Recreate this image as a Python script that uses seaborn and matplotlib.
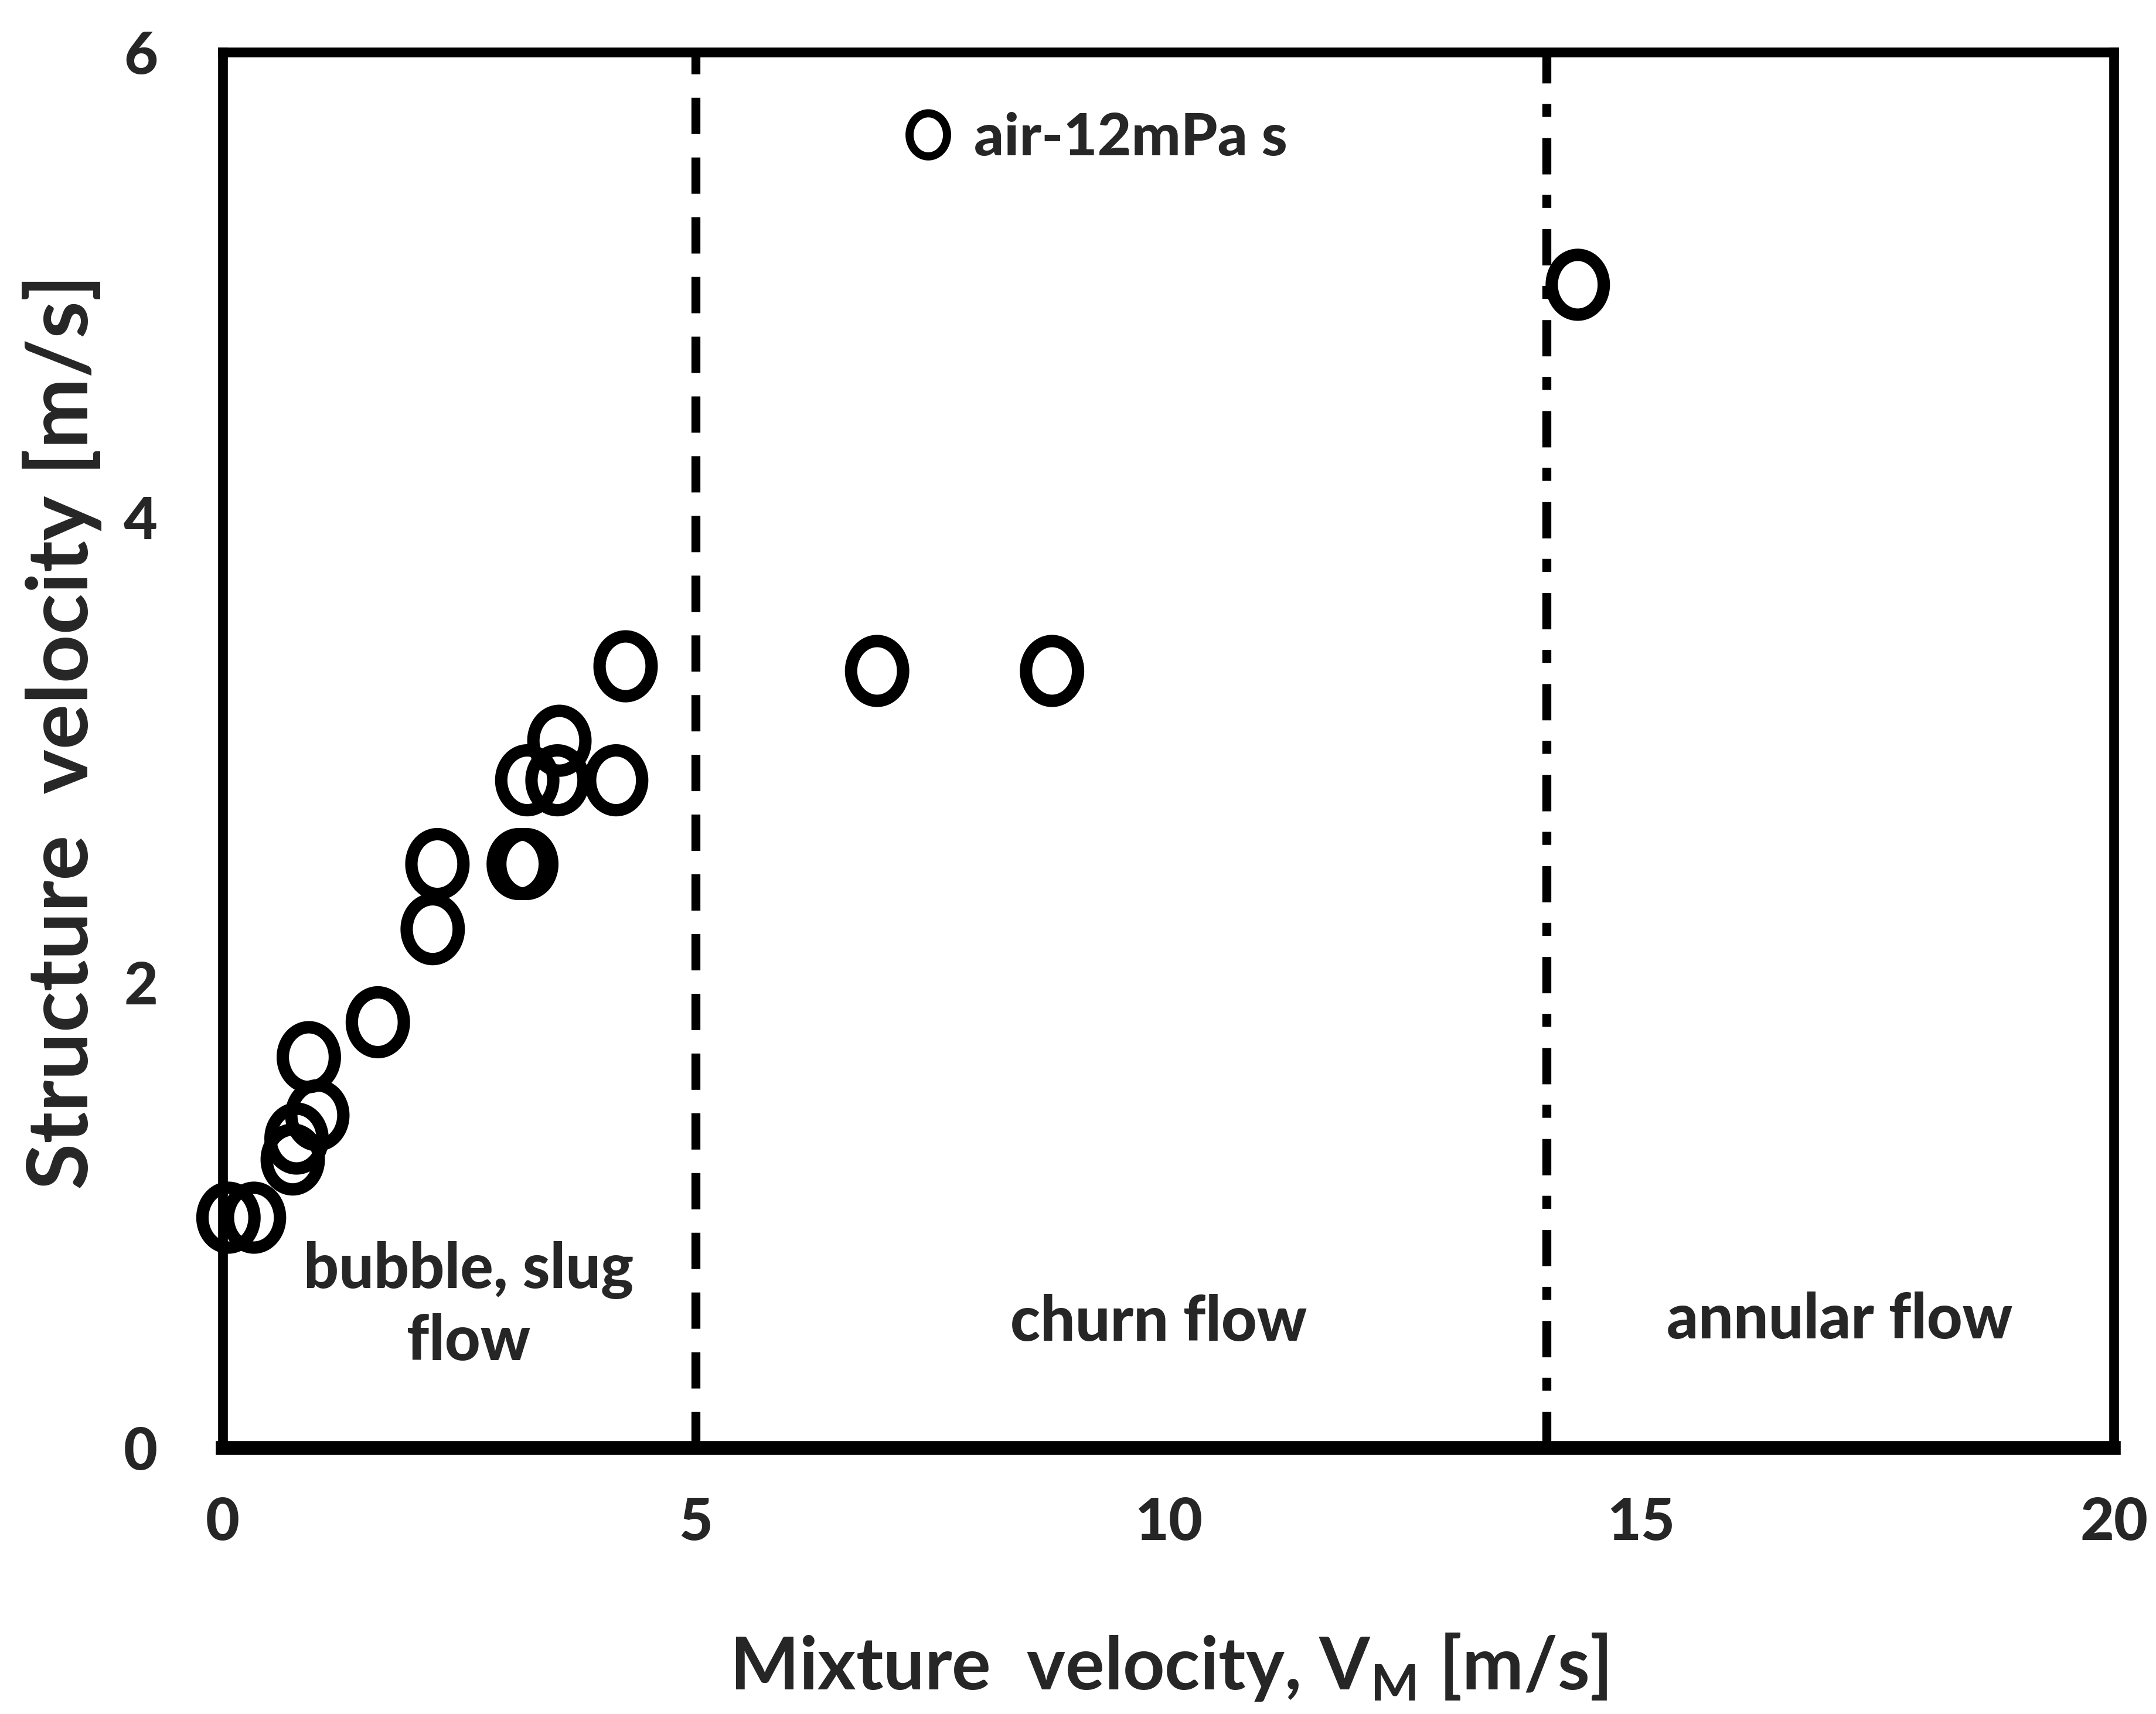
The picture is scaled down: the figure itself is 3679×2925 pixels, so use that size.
import numpy as np
import pandas as pd
import matplotlib
matplotlib.use("Agg")
import matplotlib.pyplot as plt
from matplotlib.path import Path
from matplotlib.markers import MarkerStyle
import seaborn as sns

# ---------------- data ----------------
mixture_velocity = [0.06, 0.33, 0.74, 0.78, 1.00, 0.91, 1.64, 2.22, 2.27,
                    3.13, 3.21, 3.22, 3.54, 3.56, 4.16, 4.26, 6.92, 8.77, 14.33]
structure_velocity = [0.99, 0.99, 1.24, 1.33, 1.43, 1.68, 1.83, 2.23, 2.51,
                      2.51, 2.51, 2.87, 2.87, 3.04, 2.87, 3.36, 3.34, 3.34, 5.00]
series_label = "air-12mPa s"
x_ticks = [0, 5, 10, 15, 20]
y_ticks = [0, 2, 4, 6]
regime_bounds = [5, 14]
regime_names = ["bubble, slug\nflow", "churn flow", "annular flow"]

df = pd.DataFrame({"vm": mixture_velocity, "vs": structure_velocity})

# ---------------- style ----------------
sns.set_style("white")
plt.rcParams["font.family"] = ["Lato", "DejaVu Sans"]
plt.rcParams["font.weight"] = "bold"
plt.rcParams["axes.labelweight"] = "bold"
plt.rcParams["mathtext.fontset"] = "custom"
plt.rcParams["mathtext.rm"] = "Lato:bold"
plt.rcParams["mathtext.it"] = "Lato:bold"
plt.rcParams["mathtext.bf"] = "Lato:bold"
plt.rcParams["lines.scale_dashes"] = False

HEAVY = "black"

fig = plt.figure(figsize=(18.4, 14.625), dpi=200)
ax = fig.add_axes([0.1033, 0.1552, 0.8769, 0.8144])

# slightly tall ellipse marker (original chart is horizontally squeezed)
t = np.linspace(0, 2 * np.pi, 120)
ell = Path(np.column_stack([0.87 * np.cos(t), np.sin(t)]), closed=True)
marker = MarkerStyle(ell)

sns.scatterplot(data=df, x="vm", y="vs", ax=ax, marker=marker, s=1350,
                facecolor="none", edgecolor="black", linewidth=7.6,
                clip_on=False, zorder=5, label=series_label)

# regime boundaries
ax.axvline(regime_bounds[0], color="black", lw=5.5,
           linestyle=(0, (22.3, 14.4)), zorder=3)
ax.axvline(regime_bounds[1], color="black", lw=5.5,
           linestyle=(0, (22.3, 13.0, 8.0, 12.6)), zorder=3)

# regime labels
txt_kw = dict(ha="center", va="center", fontsize=38, fontweight=HEAVY)
ax.text(2.6, 0.61, regime_names[0], linespacing=1.3, **txt_kw)
ax.text(9.9, 0.54, regime_names[1], **txt_kw)
ax.text(17.1, 0.55, regime_names[2], **txt_kw)

ax.set_xlim(0, 20)
ax.set_ylim(0, 6)
ax.set_xticks(x_ticks, labels=[str(v) for v in x_ticks],
              fontweight=HEAVY, fontsize=36)
ax.set_yticks(y_ticks, labels=[str(v) for v in y_ticks],
              fontweight=HEAVY, fontsize=36)
ax.tick_params(axis="x", length=0, pad=30)
ax.tick_params(axis="y", length=0, pad=40)

ax.set_xlabel("Mixture  velocity, V$_{\\mathrm{M}}$ [m/s]", fontsize=45,
              fontweight="bold")
ax.set_ylabel("Structure  velocity [m/s]", fontsize=52, fontweight="bold")
ax.xaxis.set_label_coords(0.5, -0.157)
ax.xaxis.label.set_va("center")
ax.yaxis.set_label_coords(-0.085, 0.513)
ax.yaxis.label.set_va("center")

for side in ["left", "right", "top"]:
    ax.spines[side].set_linewidth(6)
    ax.spines[side].set_color("black")
ax.spines["bottom"].set_linewidth(8.5)
ax.spines["bottom"].set_color("black")
ax.grid(False)

leg = ax.legend(loc="center left", bbox_to_anchor=(0.363, 0.938),
                frameon=False, markerscale=0.72, handlelength=0.65,
                handletextpad=0.45, borderpad=0, borderaxespad=0,
                scatteryoffsets=[0.5],
                prop={"family": ["Lato", "DejaVu Sans"], "weight": HEAVY,
                      "size": 36})
for h in leg.legend_handles:
    h.set_linewidth(5)

fig.savefig("out.png", dpi=200, facecolor="white")
